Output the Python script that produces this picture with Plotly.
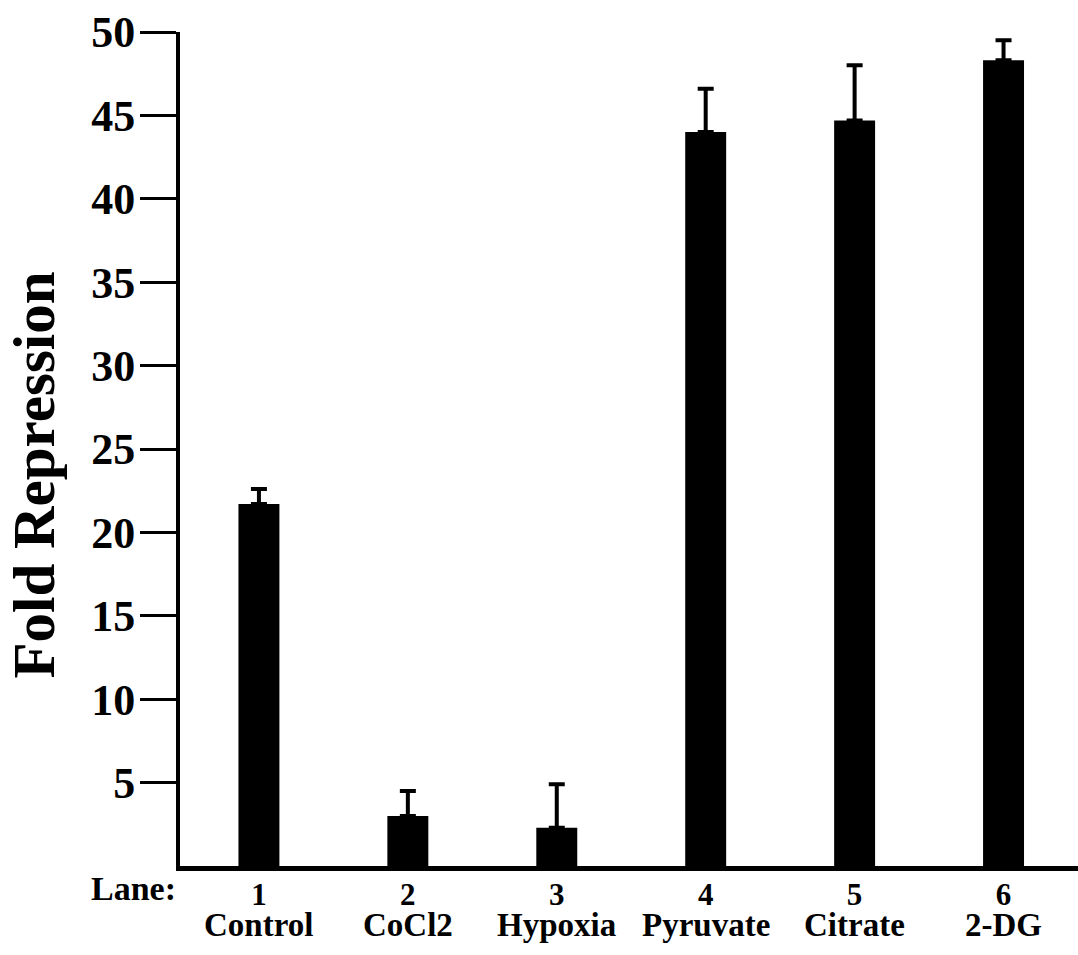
import plotly.graph_objects as go

lanes = ["1", "2", "3", "4", "5", "6"]
treatments = ["Control", "CoCl2", "Hypoxia", "Pyruvate", "Citrate", "2-DG"]
fold_repression = [21.7, 3.0, 2.3, 44.0, 44.7, 48.3]
error_up = [0.9, 1.5, 2.6, 2.6, 3.3, 1.2]
y_ticks = [5, 10, 15, 20, 25, 30, 35, 40, 45, 50]

FONT = "Liberation Serif"

fig = go.Figure()
fig.add_trace(go.Bar(
    x=treatments,
    y=fold_repression,
    width=0.275,
    marker=dict(color="black", line=dict(width=0)),
    error_y=dict(type="data", symmetric=False, array=error_up,
                 arrayminus=[0] * len(error_up),
                 color="black", thickness=4, width=8),
))

for name in treatments:
    fig.add_annotation(x=name, y=0, xref="x", yref="paper", text=name,
                       showarrow=False, yanchor="middle", yshift=-59,
                       font=dict(family=FONT, size=33, color="black", weight="bold"))

fig.add_annotation(x=0, y=0, xref="paper", yref="paper", text="Lane:",
                   showarrow=False, xanchor="right", yanchor="middle",
                   xshift=-2, yshift=-22,
                   font=dict(family=FONT, size=34, color="black", weight="bold"))

fig.add_annotation(x=-0.163, y=0.469, xref="paper", yref="paper",
                   text="Fold Repression", textangle=-90, showarrow=False,
                   xanchor="center", yanchor="middle",
                   font=dict(family=FONT, size=59, color="black", weight="bold"))

fig.update_layout(
    width=1078, height=955,
    margin=dict(l=180, r=0, t=32, b=89),
    paper_bgcolor="white", plot_bgcolor="white",
    showlegend=False,
    xaxis=dict(
        type="category", categoryorder="array", categoryarray=treatments,
        range=[-0.53, 5.5],
        tickvals=treatments, ticktext=lanes,
        showline=True, linecolor="black", linewidth=5,
        showgrid=False, zeroline=False,
        ticks="", ticklabelstandoff=-3,
        tickfont=dict(family=FONT, size=31, color="black", weight="bold"),
    ),
    yaxis=dict(
        range=[0, 50], tickvals=y_ticks,
        showline=True, linecolor="black", linewidth=4,
        showgrid=False, zeroline=False,
        ticks="outside", ticklen=36, tickwidth=3, tickcolor="black",
        ticklabelstandoff=-4,
        tickfont=dict(family=FONT, size=44, color="black", weight="bold"),
    ),
)

fig.write_html("out.html")
